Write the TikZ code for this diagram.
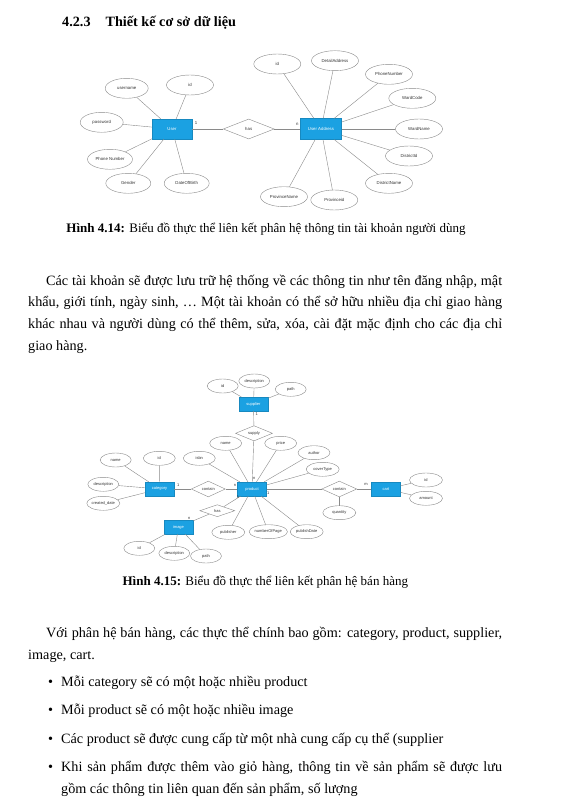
\documentclass[tikz,border=0pt]{standalone}
\usepackage{fontspec}
\setmainfont{Liberation Serif}
\newfontfamily\diafont{Liberation Sans}
\usetikzlibrary{shapes.geometric}
\definecolor{cent}{HTML}{1BA1E2}
\definecolor{cline}{HTML}{8A8A8A}
\definecolor{ctxt}{HTML}{333333}
\newcommand{\bodysize}{\fontsize{14.2}{22}\selectfont}

\begin{document}
\begin{tikzpicture}[x=1pt, y=-1pt,
  ent/.style={rectangle, fill=cent, draw=cent!85!black, line width=0.3pt, text=white, inner sep=0pt},
  attr/.style={ellipse, draw=cline, fill=white, line width=0.4pt, text=ctxt, inner sep=0pt},
  rel/.style={diamond, draw=cline, fill=white, line width=0.4pt, text=ctxt, inner sep=0pt},
  link/.style={draw=cline, line width=0.4pt},
  card/.style={text=ctxt, inner sep=0pt},
  big/.style={font=\diafont\fontsize{4.3}{5}\selectfont},
  small/.style={font=\diafont\fontsize{4}{5}\selectfont},
  line/.style={anchor=base west, inner sep=0pt, font=\bodysize},
  caption/.style={anchor=base, inner sep=0pt, font=\fontsize{13}{15}\selectfont}
]
\fill[white] (0,0) rectangle (560,797);
\useasboundingbox (0,0) rectangle (560,797);

\node[anchor=base west, inner sep=0pt, font=\fontsize{14.2}{16}\selectfont\bfseries] (head) at (62,26.7) {4.2.3\hspace{15pt}Thiết kế cơ sở dữ liệu};

% user account diagram
\begin{scope}[big]
\node[ent, minimum width=40, minimum height=20] (user) at (172,129) {User};
\node[rel, minimum width=51, minimum height=20] (has) at (248.7,129) {has};
\node[ent, minimum width=41, minimum height=21] (uaddr) at (321,129) {User Address};

\node[attr, minimum width=43, minimum height=20] (uname) at (126.7,88.3) {username};
\node[attr, minimum width=47, minimum height=20] (uid) at (190,85) {id};
\node[attr, minimum width=43, minimum height=20] (upass) at (101.7,122.3) {password};
\node[attr, minimum width=45, minimum height=20] (uphone) at (110,159.3) {Phone Number};
\node[attr, minimum width=45, minimum height=20] (ugender) at (128.3,183.3) {Gender};
\node[attr, minimum width=45, minimum height=20] (udob) at (186.7,183.3) {DateOfBirth};

\node[attr, minimum width=47, minimum height=20] (aid) at (277.3,64) {id};
\node[attr, minimum width=47, minimum height=20] (adetail) at (335,60.7) {DetailAddress};
\node[attr, minimum width=47, minimum height=20] (aphone) at (389,74.3) {PhoneNumber};
\node[attr, minimum width=47, minimum height=20] (awcode) at (412.3,98.3) {WardCode};
\node[attr, minimum width=47, minimum height=20] (awname) at (419,129) {WardName};
\node[attr, minimum width=47, minimum height=20] (adid) at (409,156) {DistrictId};
\node[attr, minimum width=47, minimum height=20] (adname) at (389,183.3) {DistrictName};
\node[attr, minimum width=47, minimum height=20] (apid) at (334.3,200) {Provinceid};
\node[attr, minimum width=47, minimum height=20] (apname) at (284,196.7) {ProvinceName};

\draw[link] (uname) -- (user);
\draw[link] (uid) -- (user);
\draw[link] (upass) -- (user);
\draw[link] (uphone) -- (user);
\draw[link] (ugender) -- (user);
\draw[link] (udob) -- (user);
\draw[link] (user) -- (has) -- (uaddr);
\draw[link] (aid) -- (uaddr);
\draw[link] (adetail) -- (uaddr);
\draw[link] (aphone) -- (uaddr);
\draw[link] (awcode) -- (uaddr);
\draw[link] (awname) -- (uaddr);
\draw[link] (adid) -- (uaddr);
\draw[link] (adname) -- (uaddr);
\draw[link] (apid) -- (uaddr);
\draw[link] (apname) -- (uaddr);

\node[card] (cu1) at (196,122.7) {1};
\node[card] (cun) at (297.3,124) {n};
\end{scope}

\node[caption] (cap1) at (266,232.3) {\textbf{Hình 4.14:} Biểu đồ thực thể liên kết phân hệ thông tin tài khoản người dùng};

\node[line] (p1a) at (46,285) {\makebox[456pt][s]{Các tài khoản sẽ được lưu trữ hệ thống về các thông tin như tên đăng nhập, mật}};
\node[line] (p1b) at (28,306.7) {\makebox[474pt][s]{khẩu, giới tính, ngày sinh, \dots\ Một tài khoản có thể sở hữu nhiều địa chỉ giao hàng}};
\node[line] (p1c) at (28,328.3) {\makebox[474pt][s]{khác nhau và người dùng có thể thêm, sửa, xóa, cài đặt mặc định cho các địa chỉ}};
\node[line] (p1d) at (28,350) {giao hàng.};

% sales diagram
\begin{scope}[small]
\node[ent, minimum width=29, minimum height=14] (sup) at (253.5,404) {supplier};
\node[rel, minimum width=37, minimum height=12] (supply) at (254,433.3) {supply};
\node[ent, minimum width=29, minimum height=14] (prod) at (252,489) {product};
\node[ent, minimum width=29, minimum height=14] (cat) at (159.5,489) {category};
\node[rel, minimum width=34, minimum height=12] (contain) at (208.3,489) {contain};
\node[rel, minimum width=35, minimum height=12] (hasimg) at (217.3,510.7) {has};
\node[ent, minimum width=29, minimum height=14] (img) at (178.5,527) {image};
\node[rel, minimum width=35, minimum height=12] (incart) at (339.3,489) {contain};
\node[ent, minimum width=29, minimum height=14] (cart) at (386,489) {cart};

\node[attr, minimum width=31, minimum height=14] (sid) at (222.7,386) {id};
\node[attr, minimum width=31, minimum height=14] (sdesc) at (254.3,381) {description};
\node[attr, minimum width=31, minimum height=14] (spath) at (290.7,389.3) {path};

\node[attr, minimum width=32, minimum height=14] (pid) at (199.3,458.3) {isbn};
\node[attr, minimum width=32, minimum height=14] (pname) at (225.7,443.3) {name};
\node[attr, minimum width=32, minimum height=14] (pprice) at (280.7,443.3) {price};
\node[attr, minimum width=32, minimum height=14] (pauthor) at (314,452.7) {author};
\node[attr, minimum width=33, minimum height=14] (pcover) at (322.7,469.3) {coverType};
\node[attr, minimum width=33, minimum height=14] (ppub) at (228.3,532.3) {publisher};
\node[attr, minimum width=33, minimum height=14] (ppages) at (268.3,531.7) {numberOfPage};
\node[attr, minimum width=33, minimum height=14] (pdate) at (306.7,531.7) {publishDate};

\node[attr, minimum width=32, minimum height=14] (cid) at (159.3,458.3) {id};
\node[attr, minimum width=31, minimum height=14] (cname) at (115.7,460) {name};
\node[attr, minimum width=31, minimum height=14] (cdesc) at (103.3,484.3) {description};
\node[attr, minimum width=31, minimum height=14] (cdate) at (103.3,503.3) {created\_date};

\node[attr, minimum width=31, minimum height=14] (iid) at (139.3,548.3) {id};
\node[attr, minimum width=31, minimum height=14] (idesc) at (174.3,553.3) {description};
\node[attr, minimum width=31, minimum height=14] (ipath) at (206,556) {path};

\node[attr, minimum width=33, minimum height=14] (qty) at (339.3,512.7) {quantity};
\node[attr, minimum width=33, minimum height=14] (crid) at (426,480) {id};
\node[attr, minimum width=33, minimum height=14] (camount) at (426,498.3) {amount};

\draw[link] (sid) -- (sup);
\draw[link] (sdesc) -- (sup);
\draw[link] (spath) -- (sup);
\draw[link] (sup) -- (supply) -- (prod);
\draw[link] (pid) -- (prod);
\draw[link] (pname) -- (prod);
\draw[link] (pprice) -- (prod);
\draw[link] (pauthor) -- (prod);
\draw[link] (pcover) -- (prod);
\draw[link] (ppub) -- (prod);
\draw[link] (ppages) -- (prod);
\draw[link] (pdate) -- (prod);
\draw[link] (cid) -- (cat);
\draw[link] (cname) -- (cat);
\draw[link] (cdesc) -- (cat);
\draw[link] (cdate) -- (cat);
\draw[link] (cat) -- (contain) -- (prod);
\draw[link] (prod) -- (hasimg) -- (img);
\draw[link] (iid) -- (img);
\draw[link] (idesc) -- (img);
\draw[link] (ipath) -- (img);
\draw[link] (prod) -- (incart) -- (cart);
\draw[link] (incart) -- (qty);
\draw[link] (crid) -- (cart);
\draw[link] (camount) -- (cart);

\node[card] (cs1) at (256.7,414.3) {1};
\node[card] (cpn) at (254.3,478.3) {n};
\node[card] (cc1) at (178.3,485) {1};
\node[card] (ccn) at (235,485) {n};
\node[card] (ci1) at (238,497) {1};
\node[card] (cin) at (189.3,518.3) {n};
\node[card] (cp1) at (268.3,492.7) {1};
\node[card] (ccm) at (366,484) {m};
\end{scope}

\node[caption] (cap2) at (265.3,585) {\textbf{Hình 4.15:} Biểu đồ thực thể liên kết phân hệ bán hàng};

\node[line] (p2a) at (46,637) {\makebox[456pt][s]{Với phân hệ bán hàng, các thực thể chính bao gồm: category, product, supplier,}};
\node[line] (p2b) at (28,659) {image, cart.};

\node[line] (b1dot) at (48,686.7) {\textbullet};
\node[line] (b1) at (61,686.7) {Mỗi category sẽ có một hoặc nhiều product};
\node[line] (b2dot) at (48,714.7) {\textbullet};
\node[line] (b2) at (61,714.7) {Mỗi product sẽ có một hoặc nhiều image};
\node[line] (b3dot) at (48,743.3) {\textbullet};
\node[line] (b3) at (61,743.3) {Các product sẽ được cung cấp từ một nhà cung cấp cụ thể (supplier};
\node[line] (b4dot) at (48,771.3) {\textbullet};
\node[line] (b4a) at (61,771.3) {\makebox[441pt][s]{Khi sản phẩm được thêm vào giỏ hàng, thông tin về sản phẩm sẽ được lưu}};
\node[line] (b4b) at (61,793.3) {gồm các thông tin liên quan đến sản phẩm, số lượng};
\end{tikzpicture}
\end{document}
